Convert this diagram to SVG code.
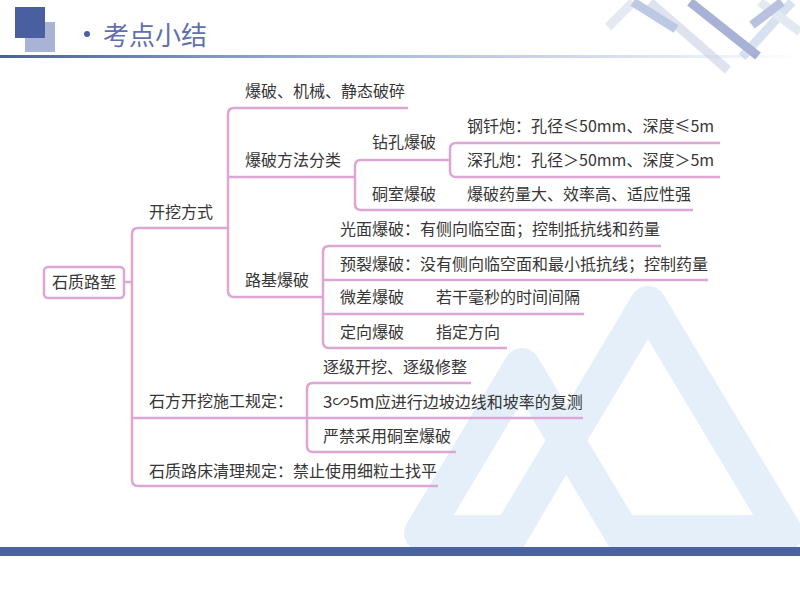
<svg xmlns="http://www.w3.org/2000/svg" width="800" height="600" viewBox="0 0 800 600">
  <defs>
    <linearGradient id="hdr" x1="0" y1="0" x2="1" y2="0">
      <stop offset="0" stop-color="#4a5f9e"/>
      <stop offset="0.4" stop-color="#9fb1d3"/>
      <stop offset="0.85" stop-color="#e3eaf4"/>
      <stop offset="1" stop-color="#ffffff"/>
    </linearGradient>
    <style>
      .t { font-family: "Noto Sans CJK SC", "Liberation Sans", sans-serif; font-size: 16px; fill: #363636; }
      .ln { fill: none; stroke: #dca6d5; stroke-width: 2.5; stroke-linecap: butt; }
      .tri { fill: none; stroke: #e4eff9; stroke-width: 36; stroke-linejoin: round; }
      .deco { stroke-width: 9; stroke-linecap: butt; }
    </style>
  </defs>
  <rect width="800" height="600" fill="#ffffff"/>

  <!-- background triangles -->
  <g id="background">
    <path class="tri" d="M648,304 L785,533 L511,533 Z"/>
    <path class="tri" d="M522,366 L622,533 L422,533 Z"/>
    <polygon points="566,475 523,548 610,548" fill="#ffffff"/>
  </g>

  <!-- header -->
  <g id="header">
    <rect x="25" y="22" width="30" height="30" fill="#a9b3d6"/>
    <rect x="15" y="7" width="30" height="31" fill="#4a5fa0"/>
    <circle cx="87" cy="34" r="3" fill="#4a5fa0"/>
    <text x="103" y="45" style="font-family: 'Noto Sans CJK SC', sans-serif; font-size: 26px; fill: #6170aa;">考点小结</text>
    <rect x="0" y="55" width="800" height="3" fill="url(#hdr)"/>
  </g>
  <g id="decoration" opacity="0.6">
    <line class="deco" x1="608" y1="27" x2="633" y2="2" stroke="#d6dce9"/>
    <line class="deco" x1="650" y1="2" x2="728" y2="70" stroke="#c9d1e5"/>
    <line class="deco" x1="633" y1="2" x2="676" y2="29" stroke="#8fa6d0"/>
    <line class="deco" x1="742" y1="57" x2="792" y2="2" stroke="#bccfe7"/>
    <line class="deco" x1="760" y1="2" x2="800" y2="32" stroke="#d2dbeb"/>
    <line class="deco" x1="752" y1="25" x2="782" y2="2" stroke="#8a9bcb"/>
    <line class="deco" x1="690" y1="2" x2="758" y2="56" stroke="#6f7fbe" stroke-width="11"/>
  </g>

  <!-- bottom bar -->
  <rect id="bottom-bar" x="0" y="547" width="800" height="9" fill="#4a62a0"/>

  <!-- connectors -->
  <g id="connectors">
    <path class="ln" d="M124,282 H132"/>
    <path class="ln" d="M228,228 H138 Q132,228 132,234 V480 Q132,486 138,486 H438"/>
    <path class="ln" d="M132,418 H583"/>
    <path class="ln" d="M408,108 H234 Q228,108 228,114 V291 Q228,297 234,297 H323"/>
    <path class="ln" d="M228,177 H355"/>
    <path class="ln" d="M450,160 H361 Q355,160 355,166 V204 Q355,210 361,210 H693"/>
    <path class="ln" d="M720,143 H456 Q450,143 450,149 V171 Q450,177 456,177 H720"/>
    <path class="ln" d="M661,246 H329 Q323,246 323,252 V342 Q323,348 329,348 H507"/>
    <path class="ln" d="M323,280 H708"/>
    <path class="ln" d="M323,314 H584"/>
    <path class="ln" d="M471,383 H313 Q307,383 307,389 V446 Q307,452 313,452 H456"/>
  </g>

  <!-- nodes -->
  <g id="root">
    <rect x="44" y="267" width="80" height="31" rx="4" fill="#ffffff" stroke="#dca6d5" stroke-width="2.5"/>
    <text class="t" x="52" y="288">石质路堑</text>
  </g>
  <g id="n-kaiwa"><text class="t" x="149" y="218">开挖方式</text></g>
  <g id="n-methods"><text class="t" x="245" y="97">爆破、机械、静态破碎</text></g>
  <g id="n-classify"><text class="t" x="245" y="166">爆破方法分类</text></g>
  <g id="n-zuankong"><text class="t" x="372" y="148">钻孔爆破</text></g>
  <g id="n-gangqian"><text class="t" x="467" y="132">钢钎炮：孔径≤50mm、深度≤5m</text></g>
  <g id="n-shenkong"><text class="t" x="467" y="166">深孔炮：孔径＞50mm、深度＞5m</text></g>
  <g id="n-dongshi"><text class="t" x="372" y="200">硐室爆破</text></g>
  <g id="n-dongshi-desc"><text class="t" x="467" y="200">爆破药量大、效率高、适应性强</text></g>
  <g id="n-luji"><text class="t" x="245" y="286">路基爆破</text></g>
  <g id="n-guangmian"><text class="t" x="340" y="235">光面爆破：有侧向临空面；控制抵抗线和药量</text></g>
  <g id="n-yulie"><text class="t" x="340" y="270">预裂爆破：没有侧向临空面和最小抵抗线；控制药量</text></g>
  <g id="n-weicha"><text class="t" x="340" y="303">微差爆破</text><text class="t" x="436" y="303">若干毫秒的时间间隔</text></g>
  <g id="n-dingxiang"><text class="t" x="340" y="338">定向爆破</text><text class="t" x="436" y="338">指定方向</text></g>
  <g id="n-shifang"><text class="t" x="149" y="407">石方开挖施工规定：</text></g>
  <g id="n-zhuji"><text class="t" x="323" y="373">逐级开挖、逐级修整</text></g>
  <g id="n-fuce"><text class="t" x="323" y="408"><tspan style="font-size:17px">3∽5m</tspan>应进行边坡边线和坡率的复测</text></g>
  <g id="n-yanjin"><text class="t" x="323" y="442">严禁采用硐室爆破</text></g>
  <g id="n-luchuang"><text class="t" x="149" y="477">石质路床清理规定：禁止使用细粒土找平</text></g>
</svg>
